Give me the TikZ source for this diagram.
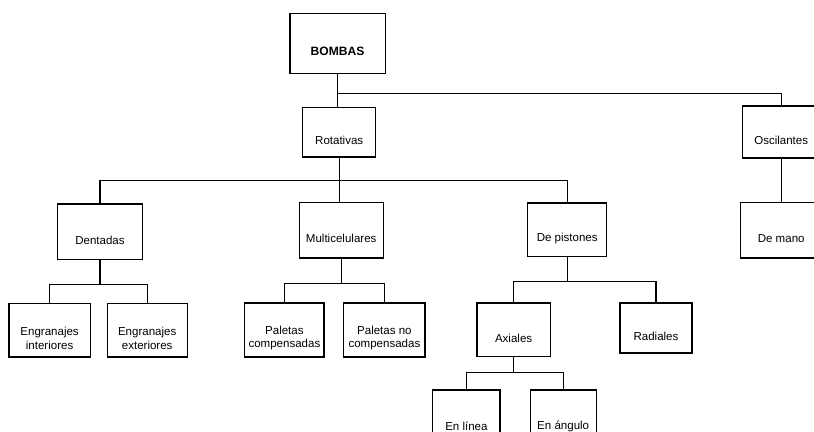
\documentclass[tikz,border=0pt]{standalone}
\usepackage{fontspec}
\setmainfont{Liberation Sans}
\usepackage{tikz}

\begin{document}
\begin{tikzpicture}[box/.style={draw,line width=.9pt,align=center,minimum width=2cm,minimum height=1.35cm,inner sep=1pt,font=\fontsize{8.2}{9.5}\selectfont,execute at begin node=\rule{0pt}{18pt}},
  twobox/.style={box,execute at begin node=\rule{0pt}{27pt}},
  link/.style={line width=.9pt}]
\clip (0,0) rectangle (20.35,-10.8);
\node[box,minimum width=2.38cm,minimum height=1.5cm,font=\fontsize{8.6}{10}\selectfont\bfseries] (bombas) at (8.44,-1.08) {BOMBAS};
\node[box,minimum width=1.83cm,minimum height=1.23cm] (rot) at (8.48,-3.31) {Rotativas};
\node[box,minimum width=1.95cm,minimum height=1.3cm] (osc) at (19.53,-3.3) {Oscilantes};
\node[box,minimum width=2.05cm,minimum height=1.38cm] (mano) at (19.53,-5.76) {De mano};
\node[box,minimum width=2.13cm,minimum height=1.38cm] (dent) at (2.5,-5.79) {Dentadas};
\node[box,minimum width=2.1cm,minimum height=1.38cm] (multi) at (8.53,-5.76) {Multicelulares};
\node[box,minimum width=1.98cm,minimum height=1.33cm] (pist) at (14.18,-5.74) {De pistones};
\node[twobox,minimum width=2.03cm,minimum height=1.33cm] (engint) at (1.24,-8.26) {Engranajes\\interiores};
\node[twobox,minimum width=2cm,minimum height=1.33cm] (engext) at (3.68,-8.26) {Engranajes\\exteriores};
\node[twobox,minimum width=1.98cm] (palcomp) at (7.11,-8.25) {Paletas\\compensadas};
\node[twobox,minimum width=2.03cm] (palnocomp) at (9.61,-8.25) {Paletas no\\compensadas};
\node[box,minimum width=1.83cm,minimum height=1.33cm] (axi) at (12.84,-8.24) {Axiales};
\node[box,minimum width=1.8cm,minimum height=1.25cm] (rad) at (16.4,-8.2) {Radiales};
\node[box,minimum width=1.68cm,minimum height=1.38cm] (linea) at (11.66,-10.44) {En línea};
\node[box,minimum width=1.65cm,minimum height=1.38cm] (angulo) at (14.08,-10.44) {En ángulo};

\draw[link] (bombas.south) -- (bombas.south |- rot.north);
\draw[link] (bombas.south) ++(0,-.5) -| (osc.north);
\draw[link] (osc.south) -- (mano.north);
\draw[link] (rot.south) -- (rot.south |- multi.north);
\draw[link] (rot.south) ++(0,-.57) -| (dent.north);
\draw[link] (rot.south) ++(0,-.57) -| (pist.north);
\draw[link] (dent.south) -- ++(0,-.62) -| (engint.north);
\draw[link] (dent.south) ++(0,-.62) -| (engext.north);
\draw[link] (multi.south) -- ++(0,-.62) -| (palcomp.north);
\draw[link] (multi.south) ++(0,-.62) -| (palnocomp.north);
\draw[link] (pist.south) -- ++(0,-.62) -| (axi.north);
\draw[link] (pist.south) ++(0,-.62) -| (rad.north);
\draw[link] (axi.south) -- ++(0,-.4) -| (linea.north);
\draw[link] (axi.south) ++(0,-.4) -| (angulo.north);
\end{tikzpicture}
\end{document}
